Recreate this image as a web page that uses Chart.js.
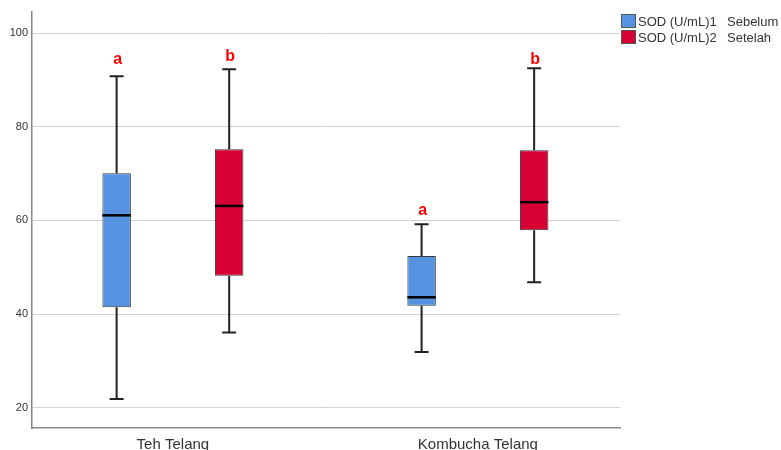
<!DOCTYPE html>
<html>
<head>
<meta charset="utf-8">
<script src="https://cdn.jsdelivr.net/npm/chart.js@4"></script>
<style>
  body { margin: 0; background: #fff; font-family: "Liberation Sans", Arial, sans-serif; }
  #wrap { position: relative; width: 781px; height: 450px; }
  .leg { position: absolute; left: 621px; font-size: 13px; color: #333; line-height: 14px; }
  .leg span.sw { display: inline-block; width: 13px; height: 12px; border: 1px solid #555; vertical-align: -2px; margin-right: 2px; }
  .leg span.nm { display: inline-block; width: 89px; }
</style>
</head>
<body>
<div id="wrap">
  <canvas id="box-chart"></canvas>
  <div class="leg" style="top:14px"><span class="sw" style="background:#5592e0"></span><span class="nm">SOD (U/mL)1</span>Sebelum</div>
  <div class="leg" style="top:30px"><span class="sw" style="background:#d70034"></span><span class="nm">SOD (U/mL)2</span>Setelah</div>
</div>
<script>
// categories and box stats
const categories = ['Teh Telang', 'Kombucha Telang'];
const yTicks = [20, 40, 60, 80, 100];

// SOD (U/mL)1 - Sebelum
const beforeMin = [21.9, 31.9];
const beforeQ1 = [41.5, 41.8];
const beforeMedian = [61.1, 43.6];
const beforeQ3 = [70.1, 52.4];
const beforeMax = [90.8, 59.2];
const beforeLetters = ['a', 'a'];
const beforeLetterY = [93.3, 61.2];

// SOD (U/mL)2 - Setelah
const afterMin = [36.1, 46.8];
const afterQ1 = [48.2, 57.9];
const afterMedian = [63.1, 63.9];
const afterQ3 = [75.2, 75.0];
const afterMax = [92.3, 92.5];
const afterLetters = ['b', 'b'];
const afterLetterY = [94.1, 93.4];

const stats = [
    { min: beforeMin, med: beforeMedian, max: beforeMax, letters: beforeLetters, letterY: beforeLetterY },
    { min: afterMin, med: afterMedian, max: afterMax, letters: afterLetters, letterY: afterLetterY }
];

// whiskers, medians and letters on top of the floating bars
const whiskerPlugin = {
    id: 'whiskers',
    afterDatasetsDraw(chart) {
        const ctx = chart.ctx;
        const y = chart.scales.y;
        chart.data.datasets.forEach((ds, di) => {
            const meta = chart.getDatasetMeta(di);
            const s = stats[di];
            meta.data.forEach((bar, i) => {
                const x = bar.x;
                const half = bar.width / 2;
                const top = Math.min(bar.y, bar.base);
                const bottom = Math.max(bar.y, bar.base);
                const yMax = y.getPixelForValue(s.max[i]);
                const yMin = y.getPixelForValue(s.min[i]);
                const yMed = y.getPixelForValue(s.med[i]);

                ctx.save();
                ctx.strokeStyle = '#222';
                ctx.lineWidth = 2;
                ctx.beginPath();
                ctx.moveTo(x, top); ctx.lineTo(x, yMax);
                ctx.moveTo(x, bottom); ctx.lineTo(x, yMin);
                ctx.moveTo(x - 7, yMax); ctx.lineTo(x + 7, yMax);
                ctx.moveTo(x - 7, yMin); ctx.lineTo(x + 7, yMin);
                ctx.stroke();

                ctx.strokeStyle = '#000';
                ctx.lineWidth = 2.5;
                ctx.beginPath();
                ctx.moveTo(x - half, yMed); ctx.lineTo(x + half, yMed);
                ctx.stroke();

                ctx.fillStyle = '#ff0000';
                ctx.font = 'bold 16px "Liberation Sans", Arial, sans-serif';
                ctx.textAlign = 'center';
                ctx.textBaseline = 'alphabetic';
                ctx.fillText(s.letters[i], x + 1, y.getPixelForValue(s.letterY[i]));
                ctx.restore();
            });
        });
    }
};

const chart = new Chart(document.querySelector('#box-chart'), {
    type: 'bar',
    data: {
        datasets: [
            {
                label: 'SOD (U/mL)1',
                data: categories.map((c, i) => ({ x: i, y: [beforeQ1[i], beforeQ3[i]] })),
                backgroundColor: '#5592e0',
                borderColor: '#3a3a3a',
                borderWidth: 1,
                borderSkipped: false
            },
            {
                label: 'SOD (U/mL)2',
                data: categories.map((c, i) => ({ x: i, y: [afterQ1[i], afterQ3[i]] })),
                backgroundColor: '#d70034',
                borderColor: '#3a3a3a',
                borderWidth: 1,
                borderSkipped: false
            }
        ]
    },
    options: {
        responsive: true,
        maintainAspectRatio: false,
        animation: false,
        categoryPercentage: 0.738,
        barPercentage: 0.253,
        layout: { padding: { top: 12, right: 161, left: 0, bottom: 0 } },
        plugins: { legend: { display: false }, tooltip: { enabled: false } },
        scales: {
            x: {
                type: 'linear',
                offset: false,
                min: -0.462,
                max: 1.466,
                afterBuildTicks: scale => { scale.ticks = categories.map((c, i) => ({ value: i })); },
                afterFit: scale => { scale.height = 22; },
                ticks: {
                    callback: v => categories[v],
                    color: '#333',
                    padding: 0,
                    font: { family: '"Liberation Sans", Arial, sans-serif', size: 15 }
                },
                grid: { display: false },
                border: { color: '#888', width: 1.5 }
            },
            y: {
                min: 15.7,
                max: 104.5,
                afterBuildTicks: scale => { scale.ticks = yTicks.map(v => ({ value: v })); },
                afterFit: scale => { scale.width = 32; },
                ticks: {
                    color: '#333',
                    padding: 4,
                    font: { family: '"Liberation Sans", Arial, sans-serif', size: 11 }
                },
                grid: { color: '#d2d2d2', lineWidth: 1, drawTicks: false },
                border: { color: '#888', width: 1.5 }
            }
        }
    },
    plugins: [whiskerPlugin]
});
</script>
</body>
</html>
